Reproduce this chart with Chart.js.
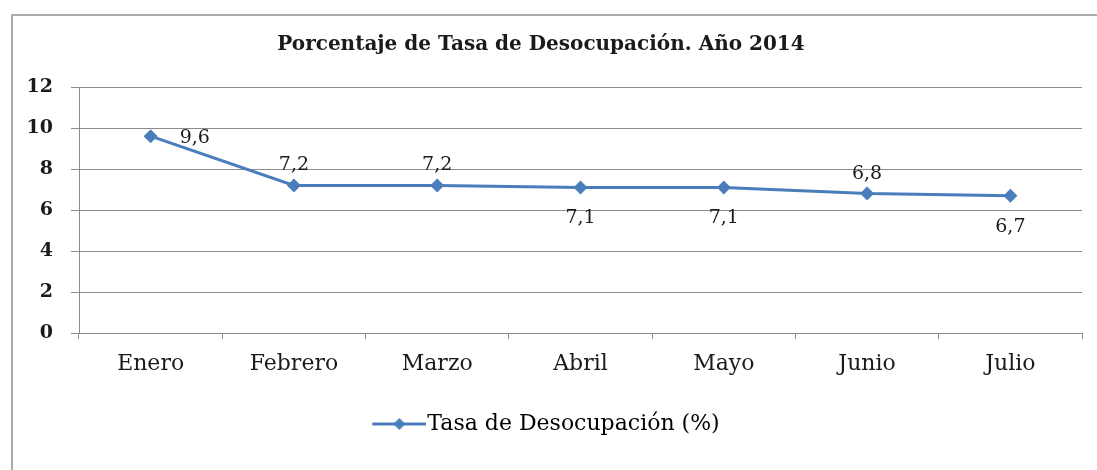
<!DOCTYPE html>
<html>
<head>
<meta charset="utf-8">
<script src="https://cdn.jsdelivr.net/npm/chart.js@4.4.1/dist/chart.umd.min.js"></script>
<style>
    html, body { margin: 0; padding: 0; background: #fff; }
    #wrap { width: 1097px; height: 470px; position: relative; }
</style>
</head>
<body>
<div id="wrap"><canvas id="desocupacionChart"></canvas></div>
<script>
const months = ["Enero", "Febrero", "Marzo", "Abril", "Mayo", "Junio", "Julio"];
const rates = [9.6, 7.2, 7.2, 7.1, 7.1, 6.8, 6.7];
const yTicks = [0, 2, 4, 6, 8, 10, 12];
const seriesName = "Tasa de Desocupación (%)";
const chartTitle = "Porcentaje de Tasa de Desocupación. Año 2014";

const lineColor = "#4a7ebb";
const serif = "'DejaVu Serif', 'Liberation Serif', serif";

// where each value label sits relative to its point
const labelSide = ["right", "above", "above", "below", "below", "above", "below"];

// legend marker: line with a diamond in the middle, pushed right so it sits close to the text
const legendMark = document.createElement("canvas");
legendMark.width = 74;
legendMark.height = 14;
(function () {
    const c = legendMark.getContext("2d");
    c.strokeStyle = lineColor;
    c.lineWidth = 3;
    c.beginPath();
    c.moveTo(20, 7);
    c.lineTo(74, 7);
    c.stroke();
    c.fillStyle = lineColor;
    c.beginPath();
    c.moveTo(47, 1);
    c.lineTo(53, 7);
    c.lineTo(47, 13);
    c.lineTo(41, 7);
    c.closePath();
    c.fill();
})();

const frame = {
    id: "frame",
    beforeDraw(chart) {
        const ctx = chart.ctx;
        ctx.save();
        ctx.strokeStyle = "#ababab";
        ctx.lineWidth = 2;
        ctx.strokeRect(12, 15, 1200, 600);
        ctx.restore();
    },
};

const valueLabels = {
    id: "valueLabels",
    afterDatasetsDraw(chart) {
        const ctx = chart.ctx;
        const meta = chart.getDatasetMeta(0);
        ctx.save();
        ctx.font = "19px " + serif;
        ctx.fillStyle = "#1a1a1a";
        ctx.textBaseline = "middle";
        meta.data.forEach(function (pt, i) {
            const txt = rates[i].toFixed(1).replace(".", ",");
            const side = labelSide[i];
            if (side === "right") {
                ctx.textAlign = "left";
                ctx.fillText(txt, pt.x + 29, pt.y + 2);
            } else if (side === "above") {
                ctx.textAlign = "center";
                ctx.fillText(txt, pt.x, pt.y - 20);
            } else {
                ctx.textAlign = "center";
                ctx.fillText(txt, pt.x, pt.y + 31);
            }
        });
        ctx.restore();
    },
};

const ctx = document.getElementById("desocupacionChart").getContext("2d");
new Chart(ctx, {
    type: "line",
    data: {
        labels: months,
        datasets: [
            {
                label: seriesName,
                data: rates,
                borderColor: lineColor,
                backgroundColor: lineColor,
                borderWidth: 3,
                pointStyle: "rectRot",
                pointRadius: 7,
                pointHoverRadius: 7,
                pointBorderWidth: 0,
                tension: 0,
            },
        ],
    },
    options: {
        responsive: true,
        maintainAspectRatio: false,
        animation: false,
        layout: { padding: { left: 0, right: 15, top: 0, bottom: 25 } },
        scales: {
            x: {
                offset: true,
                afterFit(scale) {
                    scale.height = 70;
                },
                grid: {
                    offset: true,
                    drawOnChartArea: false,
                    drawTicks: true,
                    tickLength: 6,
                    color: "#8c8c8c",
                },
                border: { color: "#8c8c8c", width: 1 },
                ticks: {
                    padding: 12,
                    color: "#1a1a1a",
                    font: { family: serif, size: 22 },
                },
            },
            y: {
                min: 0,
                max: 12,
                afterBuildTicks(scale) {
                    scale.ticks = yTicks.map(function (v) { return { value: v }; });
                },
                afterFit(scale) {
                    scale.width = 79;
                },
                grid: {
                    color: "#8c8c8c",
                    tickLength: 8,
                },
                border: { color: "#8c8c8c", width: 1 },
                ticks: {
                    padding: 18,
                    color: "#1a1a1a",
                    font: { family: serif, size: 19, weight: "bold" },
                },
            },
        },
        plugins: {
            title: {
                display: true,
                text: chartTitle,
                color: "#1a1a1a",
                font: { family: serif, size: 20, weight: "bold" },
                padding: { top: 33, bottom: 30 },
            },
            legend: {
                position: "bottom",
                labels: {
                    usePointStyle: true,
                    pointStyleWidth: 54,
                    color: "#1a1a1a",
                    font: { family: serif, size: 22 },
                    generateLabels() {
                        return [
                            {
                                text: seriesName,
                                pointStyle: legendMark,
                                fillStyle: lineColor,
                                strokeStyle: lineColor,
                                lineWidth: 0,
                                datasetIndex: 0,
                            },
                        ];
                    },
                },
            },
            tooltip: { enabled: false },
        },
    },
    plugins: [frame, valueLabels],
});
</script>
</body>
</html>
